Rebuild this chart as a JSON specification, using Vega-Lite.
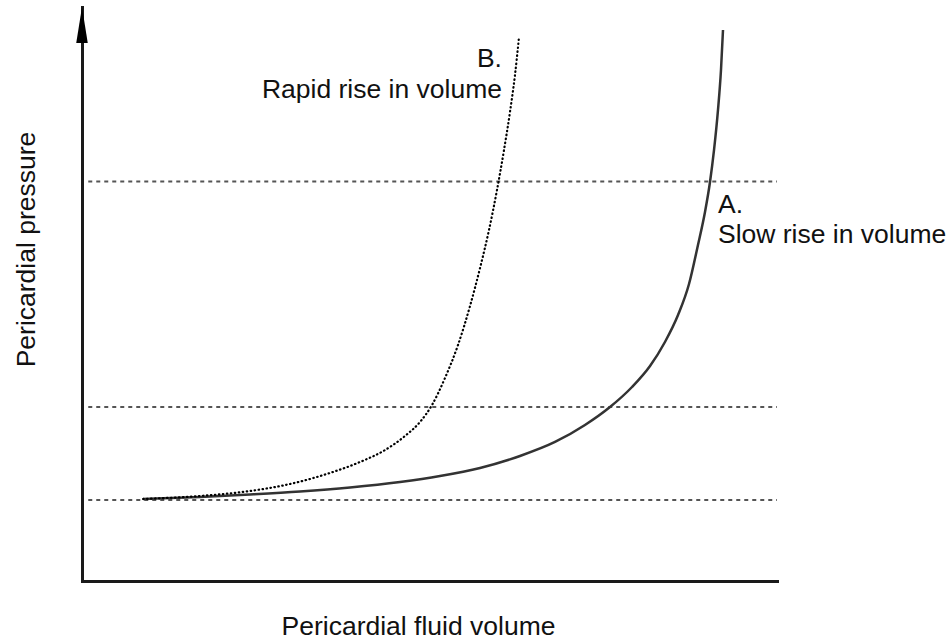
{
  "$schema": "https://vega.github.io/schema/vega-lite/v6.json",
  "width": 695,
  "height": 574,
  "autosize": {"type": "none"},
  "padding": {"left": 82, "top": 7, "right": 172, "bottom": 58},
  "background": "white",
  "config": {
    "view": {"stroke": null},
    "font": "Liberation Sans",
    "text": {"font": "Liberation Sans"}
  },
  "datasets": {
    "curves": [
      {"series": "A", "volume": 8.78, "pressure": 14.29},
      {"series": "A", "volume": 16.98, "pressure": 14.63},
      {"series": "A", "volume": 24.17, "pressure": 15.07},
      {"series": "A", "volume": 31.37, "pressure": 15.59},
      {"series": "A", "volume": 38.56, "pressure": 16.29},
      {"series": "A", "volume": 45.76, "pressure": 17.25},
      {"series": "A", "volume": 51.51, "pressure": 18.29},
      {"series": "A", "volume": 57.27, "pressure": 19.69},
      {"series": "A", "volume": 63.02, "pressure": 21.78},
      {"series": "A", "volume": 68.06, "pressure": 24.22},
      {"series": "A", "volume": 72.37, "pressure": 27.18},
      {"series": "A", "volume": 75.97, "pressure": 30.31},
      {"series": "A", "volume": 79.14, "pressure": 33.8},
      {"series": "A", "volume": 81.73, "pressure": 37.46},
      {"series": "A", "volume": 83.88, "pressure": 41.64},
      {"series": "A", "volume": 85.76, "pressure": 46.34},
      {"series": "A", "volume": 87.34, "pressure": 51.74},
      {"series": "A", "volume": 88.63, "pressure": 58.54},
      {"series": "A", "volume": 89.64, "pressure": 64.29},
      {"series": "A", "volume": 90.36, "pressure": 69.51},
      {"series": "A", "volume": 90.94, "pressure": 75.09},
      {"series": "A", "volume": 91.51, "pressure": 82.06},
      {"series": "A", "volume": 91.94, "pressure": 89.02},
      {"series": "A", "volume": 92.23, "pressure": 95.99},
      {"series": "B", "volume": 8.78, "pressure": 14.29},
      {"series": "B", "volume": 16.98, "pressure": 14.81},
      {"series": "B", "volume": 24.17, "pressure": 15.68},
      {"series": "B", "volume": 29.93, "pressure": 16.9},
      {"series": "B", "volume": 35.68, "pressure": 18.82},
      {"series": "B", "volume": 40.0, "pressure": 20.73},
      {"series": "B", "volume": 43.6, "pressure": 22.82},
      {"series": "B", "volume": 46.47, "pressure": 25.26},
      {"series": "B", "volume": 48.63, "pressure": 27.7},
      {"series": "B", "volume": 50.36, "pressure": 30.66},
      {"series": "B", "volume": 52.23, "pressure": 35.37},
      {"series": "B", "volume": 54.1, "pressure": 41.11},
      {"series": "B", "volume": 55.83, "pressure": 47.91},
      {"series": "B", "volume": 57.27, "pressure": 54.53},
      {"series": "B", "volume": 58.56, "pressure": 61.15},
      {"series": "B", "volume": 59.71, "pressure": 68.12},
      {"series": "B", "volume": 60.72, "pressure": 75.09},
      {"series": "B", "volume": 61.58, "pressure": 81.71},
      {"series": "B", "volume": 62.3, "pressure": 88.15},
      {"series": "B", "volume": 62.88, "pressure": 94.77}
    ],
    "levels": [
      {"level": 14.11, "start": 0.9, "end": 100},
      {"level": 30.31, "start": 0.9, "end": 100},
      {"level": 69.6, "start": 0.9, "end": 100}
    ],
    "labels": [
      {"text": "B.", "volume": 60.43, "pressure": 89.55, "side": "right"},
      {"text": "Rapid rise in volume", "volume": 60.43, "pressure": 84.15, "side": "right"},
      {"text": "A.", "volume": 91.51, "pressure": 64.11, "side": "left"},
      {"text": "Slow rise in volume", "volume": 91.51, "pressure": 58.89, "side": "left"}
    ],
    "arrow": [
      {"volume": 0, "pressure": 96.86}
    ]
  },
  "layer": [
    {
      "data": {"name": "levels"},
      "mark": {"type": "rule", "stroke": "#555555", "strokeWidth": 2, "strokeDash": [4, 4]},
      "encoding": {
        "x": {
          "field": "start", "type": "quantitative",
          "scale": {"domain": [0, 100], "nice": false, "zero": false},
          "axis": {
            "title": "Pericardial fluid volume",
            "domain": true, "domainColor": "#1a1a1a", "domainWidth": 3, "domainCap": "square",
            "ticks": false, "labels": false, "grid": false,
            "titleFont": "Liberation Sans", "titleFontSize": 26.5, "titleFontWeight": "normal",
            "titleColor": "#111111", "titleBaseline": "alphabetic", "titleAlign": "center",
            "titleX": 336, "titleY": 53
          }
        },
        "x2": {"field": "end"},
        "y": {
          "field": "level", "type": "quantitative",
          "scale": {"domain": [0, 100], "nice": false, "zero": false},
          "axis": {
            "title": "Pericardial pressure",
            "domain": true, "domainColor": "#1a1a1a", "domainWidth": 3, "domainCap": "square",
            "ticks": false, "labels": false, "grid": false,
            "titleFont": "Liberation Sans", "titleFontSize": 26.5, "titleFontWeight": "normal",
            "titleColor": "#111111", "titleBaseline": "alphabetic", "titleAlign": "center",
            "titleAngle": 270, "titleX": -48, "titleY": 242
          }
        }
      }
    },
    {
      "data": {"name": "curves"},
      "transform": [{"filter": "datum.series === 'A'"}],
      "mark": {"type": "line", "interpolate": "monotone", "stroke": "#333333", "strokeWidth": 2.5},
      "encoding": {
        "x": {"field": "volume", "type": "quantitative"},
        "y": {"field": "pressure", "type": "quantitative"}
      }
    },
    {
      "data": {"name": "curves"},
      "transform": [{"filter": "datum.series === 'B'"}],
      "mark": {"type": "line", "interpolate": "monotone", "stroke": "#000000", "strokeWidth": 2.2, "strokeDash": [0.5, 3.5], "strokeCap": "round"},
      "encoding": {
        "x": {"field": "volume", "type": "quantitative"},
        "y": {"field": "pressure", "type": "quantitative"}
      }
    },
    {
      "data": {"name": "labels"},
      "transform": [{"filter": "datum.side === 'right'"}],
      "mark": {"type": "text", "align": "right", "baseline": "alphabetic", "fontSize": 26.5, "font": "Liberation Sans", "color": "#111111"},
      "encoding": {
        "x": {"field": "volume", "type": "quantitative"},
        "y": {"field": "pressure", "type": "quantitative"},
        "text": {"field": "text"}
      }
    },
    {
      "data": {"name": "labels"},
      "transform": [{"filter": "datum.side === 'left'"}],
      "mark": {"type": "text", "align": "left", "baseline": "alphabetic", "fontSize": 26.5, "font": "Liberation Sans", "color": "#111111"},
      "encoding": {
        "x": {"field": "volume", "type": "quantitative"},
        "y": {"field": "pressure", "type": "quantitative"},
        "text": {"field": "text"}
      }
    },
    {
      "data": {"name": "arrow"},
      "mark": {"type": "point", "shape": "M0,-1L0.32,1L-0.32,1Z", "size": 1296, "filled": true, "color": "#000000", "opacity": 1, "strokeWidth": 0},
      "encoding": {
        "x": {"field": "volume", "type": "quantitative"},
        "y": {"field": "pressure", "type": "quantitative"}
      }
    }
  ]
}
